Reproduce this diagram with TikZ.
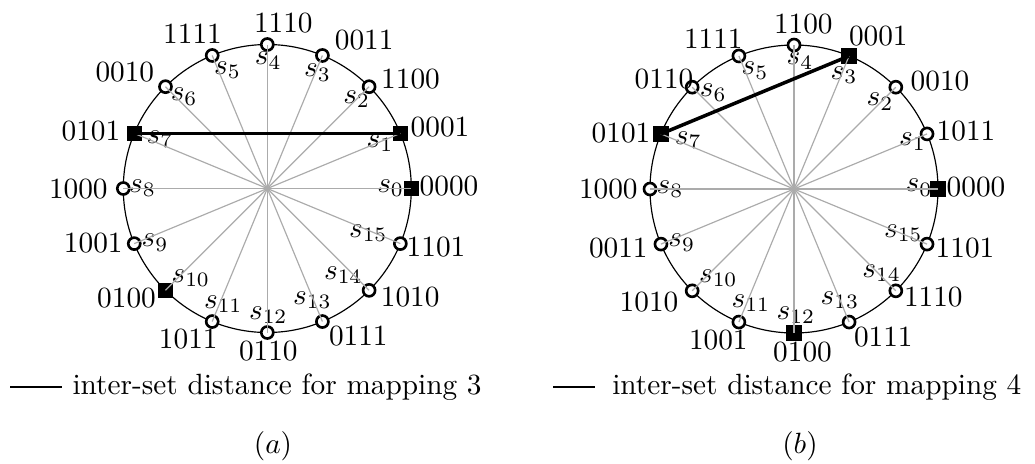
\documentclass[tikz,border=0pt]{standalone}
\usetikzlibrary{calc}
\tikzset{
  rim/.style={draw=black, line width=0.4pt},
  spoke/.style={draw=black!33, line width=0.4pt},
  opn/.style={circle, draw=black, fill=white, line width=0.9pt, inner sep=0pt, minimum size=4.1pt},
  sqr/.style={rectangle, fill=black, inner sep=0pt, minimum size=5.3pt},
  chord/.style={draw=black, line width=1.2pt},
  slab/.style={inner sep=0pt},
  blab/.style={inner sep=0pt},
  legtext/.style={inner sep=0pt, anchor=base west},
}
\begin{document}
\begin{tikzpicture}[x=0.3413pt, y=-0.3413pt]
\useasboundingbox (0,0) rectangle (1035,463);
% ---------------- (a) ----------------
\coordinate (ca) at (267.3,188.5);
\draw[rim] (ca) circle[radius=144];
\foreach \k/\st/\sx/\sy/\bx/\by/\bt in {
  0/sqr/390.7/188.3/449/186/0000,
  1/sqr/380/143.3/440/126.7/0001,
  2/opn/356.7/99/410.5/79/1100,
  3/opn/317.5/72.5/364.2/40/0011,
  4/opn/268.3/60.8/283.3/23/1110,
  5/opn/227.5/70/192.5/34/1111,
  6/opn/184.2/96.7/124.8/71.7/0010,
  7/sqr/160/139/91/131/0101,
  8/opn/142.5/188.3/78.3/189/1000,
  9/opn/155/242.5/93.3/243/1001,
  10/sqr/190.8/278.3/126.5/298.3/0100,
  11/opn/223.3/304.2/188.3/339.2/1011,
  12/opn/268.3/315/268.3/351/0110,
  13/opn/312.5/300/358.3/335.8/0111,
  14/opn/343.3/275/410.2/296.7/1010,
  15/opn/368.3/233.3/436/247.5/1101}
{
  \node[\st] (a\k) at ($(ca)+(-\k*22.5:144)$) {};
  \node[slab] (sa\k) at (\sx,\sy) {$s_{\k}$};
  \node[blab] (ba\k) at (\bx,\by) {\bt};
}
\foreach \k in {0,...,15} \draw[spoke] (ca) -- (a\k.center);
\draw[chord] (a7.center) -- (a1.center);
\coordinate (lga1) at (10,387);
\coordinate (lga2) at (61.7,387);
\draw[draw=black, line width=1pt] (lga1) -- (lga2);
\node[legtext] (lgta) at (72,394.5) {inter-set distance for mapping 3};
\node[inner sep=0pt] (capa) at (273,446.5) {$(a)$};
% ---------------- (b) ----------------
\coordinate (cb) at (794,189);
\draw[rim] (cb) circle[radius=144];
\foreach \k/\st/\sx/\sy/\bx/\by/\bt in {
  0/sqr/919/187.5/976/187.5/0000,
  1/opn/912.5/141.7/966/130.8/1011,
  2/opn/880/101.7/940/80.8/0010,
  3/sqr/844/75/878.3/35.8/0001,
  4/opn/800/60.8/803.3/24/1100,
  5/opn/755/70.8/713.3/39/1111,
  6/opn/713.3/92.5/664/79/0110,
  7/sqr/688.3/140/621/133.3/0101,
  8/opn/670/189/608.3/189/1000,
  9/opn/681.7/242.5/618.3/248.3/0011,
  10/opn/718.3/278.3/649/301.7/1010,
  11/opn/751/303.3/718.3/340/1001,
  12/sqr/796/315/802.5/352/0100,
  13/opn/840/300/883.3/337.5/0111,
  14/opn/881.7/273.3/933.3/296.7/1110,
  15/opn/903.3/233.3/965/248.3/1101}
{
  \node[\st] (b\k) at ($(cb)+(-\k*22.5:144)$) {};
  \node[slab] (sb\k) at (\sx,\sy) {$s_{\k}$};
  \node[blab] (bb\k) at (\bx,\by) {\bt};
}
\foreach \k in {0,...,15} \draw[spoke] (cb) -- (b\k.center);
\draw[chord] (b7.center) -- (b3.center);
\coordinate (lgb1) at (553,387);
\coordinate (lgb2) at (595,387);
\draw[draw=black, line width=1pt] (lgb1) -- (lgb2);
\node[legtext] (lgtb) at (611.7,394.5) {inter-set distance for mapping 4};
\node[inner sep=0pt] (capb) at (800,446.5) {$(b)$};
\end{tikzpicture}
\end{document}
